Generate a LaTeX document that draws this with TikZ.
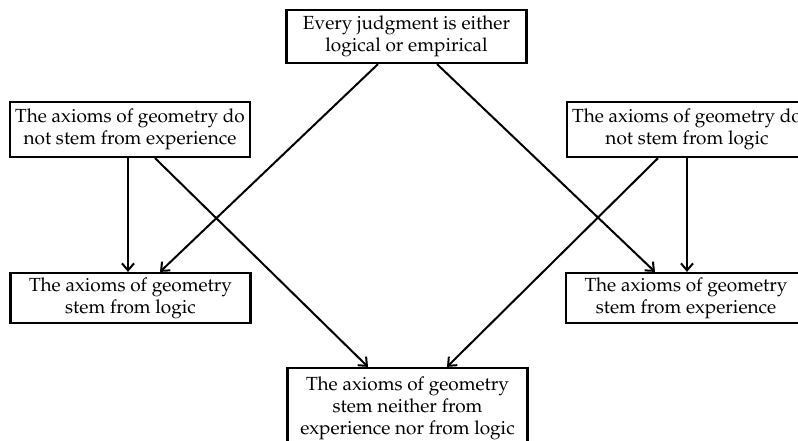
\documentclass[tikz,border=0pt]{standalone}
\usepackage[T1]{fontenc}
\usepackage{mathpazo}
\usetikzlibrary{arrows.meta}
\begin{document}
\begin{tikzpicture}[x=1pt,y=-1pt,
  box/.style={draw, line width=2.2pt, minimum width=240pt, inner sep=0pt, align=center,
    font=\fontsize{19}{22}\selectfont},
  arr/.style={line width=2pt, -{Straight Barb[length=7pt,width=12pt,line width=2pt]}}]
\useasboundingbox (0,0) rectangle (798,441);
\clip (0,0) rectangle (798,441);
\node[box, minimum height=53pt] (top) at (406.5,36.5) {Every judgment is either\\logical or empirical};
\node[box, minimum height=55pt] (lt) at (130,129.5) {The axioms of geometry do\\not stem from experience};
\node[box, minimum height=55pt] (rt) at (687,129.5) {The axioms of geometry do\\not stem from logic};
\node[box, minimum height=50pt] (lb) at (130.5,298) {The axioms of geometry\\stem from logic};
\node[box, minimum height=50pt] (rb) at (686,298) {The axioms of geometry\\stem from experience};
\node[box, minimum height=80pt] (bot) at (407.5,408) {The axioms of geometry\\stem neither from\\experience nor from logic};
\draw[arr] ([xshift=-28.5pt]top.south) -- ([xshift=29.5pt]lb.north);
\draw[arr] ([xshift=30.5pt]top.south) -- ([xshift=-31pt]rb.north);
\draw[arr] ([xshift=-2pt]lt.south) -- ([xshift=-2.5pt]lb.north);
\draw[arr] ([xshift=25pt]lt.south) -- ([xshift=-39.5pt]bot.north);
\draw[arr] ([xshift=0pt]rt.south) -- ([xshift=1pt]rb.north);
\draw[arr] ([xshift=-29pt]rt.south) -- ([xshift=39.5pt]bot.north);
\end{tikzpicture}
\end{document}
